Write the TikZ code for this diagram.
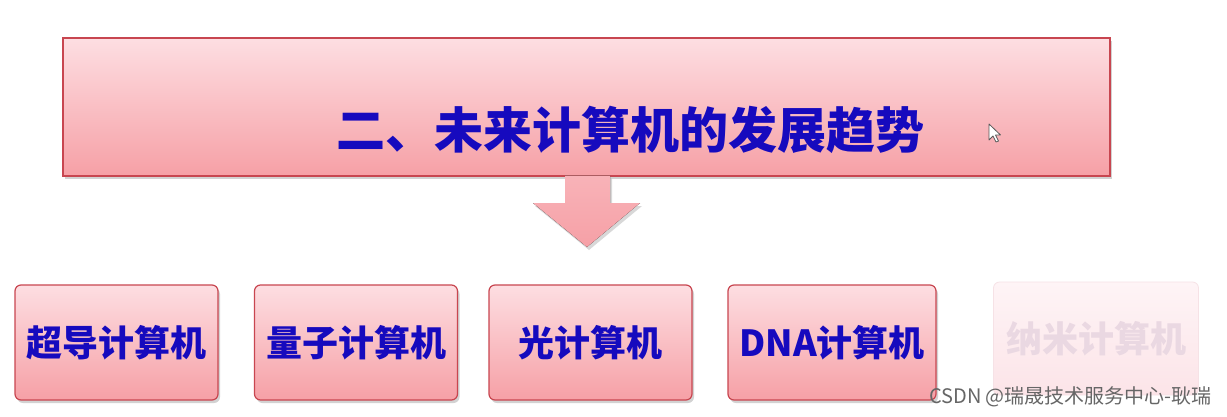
\documentclass[tikz,border=0pt]{standalone}
\usepackage{fontspec}
\newfontfamily\cjk{Noto Sans CJK SC}
\usetikzlibrary{shadows}
\definecolor{boxtop}{RGB}{253,222,226}
\definecolor{boxbot}{RGB}{246,160,166}
\definecolor{boxline}{RGB}{200,70,80}
\definecolor{txtblue}{RGB}{22,10,190}
\definecolor{fadetop}{RGB}{254,244,246}
\definecolor{fadebot}{RGB}{252,228,232}
\definecolor{fadeline}{RGB}{246,226,230}
\definecolor{fadetxt}{RGB}{234,216,226}
\tikzset{
  pinkbox/.style={draw=boxline, line width=1.2pt, top color=boxtop, bottom color=boxbot,
    drop shadow={shadow xshift=2pt, shadow yshift=-3pt, opacity=0.35}},
  itembox/.style={pinkbox, rounded corners=6pt, minimum width=203pt, minimum height=115pt, inner sep=0pt},
  fadebox/.style={draw=fadeline, line width=0.8pt, top color=fadetop, bottom color=fadebot,
    rounded corners=6pt, minimum width=205pt, minimum height=113pt, inner sep=0pt},
  itemtxt/.style={font=\cjk\bfseries\fontsize{36}{40}\selectfont, text=txtblue},
  titletxt/.style={font=\cjk\bfseries\fontsize{49}{53}\selectfont, text=txtblue}
}
\begin{document}
\begin{tikzpicture}[x=1pt,y=-1pt]
\useasboundingbox[fill=white] (0,0) rectangle (1227,416);
% top box
\node[pinkbox, minimum width=1047pt, minimum height=138pt, inner sep=0pt] (top) at (586.5,107) {};
\node[titletxt, inner sep=0pt] (title) at (630,130) {二、未来计算机的发展趋势};
% block arrow
\coordinate (tip) at (587,247);
\fill[top color=boxbot!70!boxtop, bottom color=boxbot, drop shadow={shadow xshift=2pt, shadow yshift=-3pt, opacity=0.3}]
  (565,175.5) -- (610,175.5) -- (610,203) -- (640,203) -- (tip) -- (533,203) -- (565,203) -- cycle;
% items
\node[itembox] (b1) at (116.5,342.5) {};
\node[itemtxt] (t1) at (b1.center) {超导计算机};
\node[itembox] (b2) at (356,342.5) {};
\node[itemtxt] (t2) at (b2.center) {量子计算机};
\node[itembox] (b3) at (590.5,342.5) {};
\node[itemtxt] (t3) at (b3.center) {光计算机};
\node[itembox, minimum width=208pt] (b4) at (832,342.5) {};
\node[itemtxt] (t4) at (b4.center) {DNA计算机};
\node[fadebox] (b5) at (1096,338.5) {};
\node[itemtxt, text=fadetxt] (t5) at (b5.center) {纳米计算机};
% cursor
\draw[line width=0.8pt, draw=black!65, fill=white, line join=round]
  (989,124) -- (989,140) -- (993,136) -- (996,142) -- (998.5,141) -- (995.5,135) -- (1000.5,135) -- cycle;
% watermark
\node[font=\cjk\fontsize{20}{22}\selectfont, text=black!60, anchor=east, inner sep=0pt] (wm) at (1212,397) {CSDN @瑞晟技术服务中心-耿瑞};
\end{tikzpicture}
\end{document}
